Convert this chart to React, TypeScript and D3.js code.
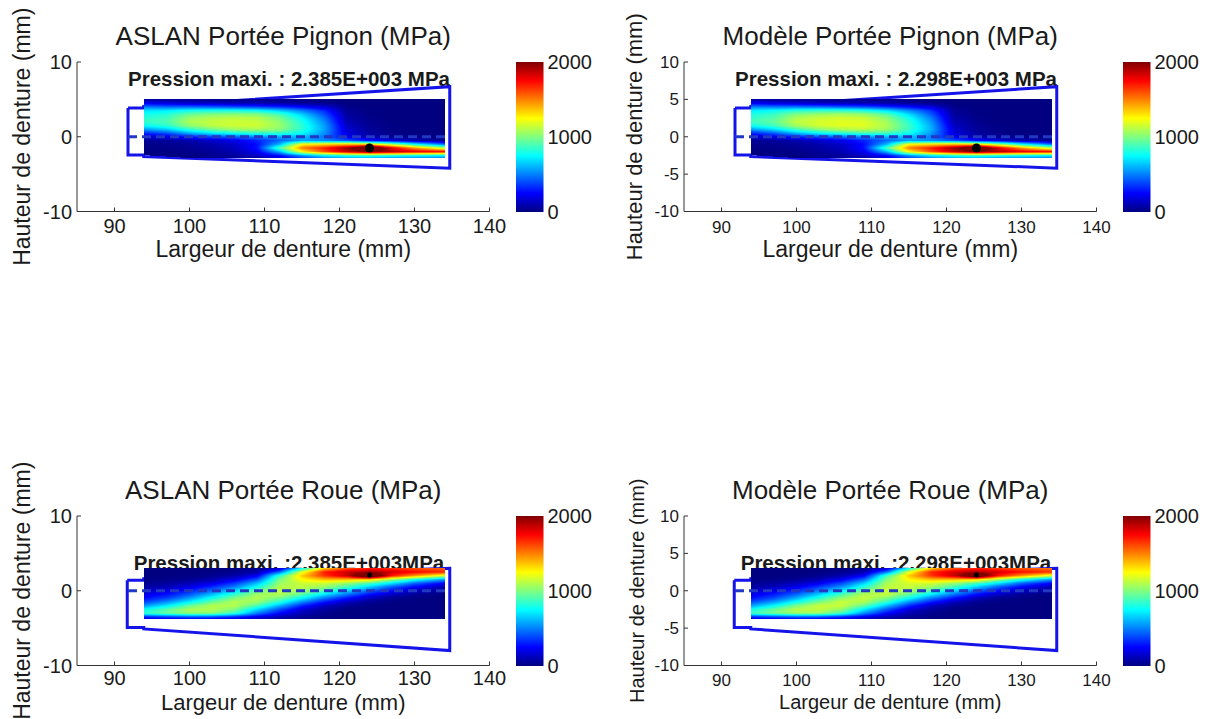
import React, { useMemo } from "react";
import * as d3 from "d3";

// ---------- data ----------
const gridX = [94, 97, 100, 103, 106, 109, 112, 115, 118, 121, 124, 127, 130, 134];
const pignonRowsY = [5, 4.5, 4, 3.5, 3, 2.5, 2, 1.5, 1, 0.5, 0, -0.5, -1, -1.5, -2, -2.5, -3];
const roueRowsY = [3, 2.5, 2, 1.5, 1, 0.5, 0, -0.5, -1, -1.5, -2, -2.5, -3, -3.5, -4];

const aslanPignon = [
  [80, 60, 50, 40, 30, 30, 20, 10, 0, 0, 0, 0, 0, 0],
  [220, 170, 140, 120, 100, 90, 70, 50, 30, 0, 0, 0, 0, 0],
  [480, 450, 450, 430, 400, 370, 320, 250, 160, 20, 0, 0, 0, 0],
  [700, 720, 780, 800, 800, 760, 650, 500, 320, 40, 10, 0, 0, 0],
  [780, 820, 950, 1000, 1020, 1000, 880, 650, 400, 60, 10, 0, 0, 0],
  [830, 880, 1050, 1100, 1120, 1100, 980, 750, 470, 80, 20, 0, 0, 0],
  [850, 900, 1080, 1130, 1150, 1140, 1030, 800, 520, 100, 30, 0, 0, 0],
  [760, 840, 1030, 1120, 1150, 1150, 1050, 830, 560, 130, 40, 10, 0, 0],
  [560, 660, 850, 980, 1060, 1080, 1020, 830, 570, 160, 50, 10, 0, 0],
  [330, 420, 600, 720, 800, 860, 860, 760, 540, 180, 60, 20, 0, 0],
  [150, 200, 310, 400, 450, 520, 590, 620, 480, 220, 90, 30, 10, 0],
  [50, 60, 100, 150, 220, 320, 450, 560, 520, 420, 280, 180, 100, 40],
  [20, 30, 50, 90, 150, 270, 600, 1250, 1300, 1350, 1300, 1050, 750, 450],
  [10, 20, 40, 70, 120, 280, 900, 1500, 1700, 1950, 2385, 1800, 1450, 1100],
  [0, 10, 20, 50, 100, 220, 600, 1250, 1600, 1850, 2000, 1900, 1800, 1750],
  [0, 0, 10, 30, 60, 130, 280, 550, 750, 850, 900, 850, 800, 750],
  [0, 0, 0, 20, 40, 80, 150, 300, 400, 450, 450, 400, 400, 400],
];

const modelePignon = [
  [80, 60, 50, 40, 30, 30, 20, 10, 0, 0, 0, 0, 0, 0],
  [230, 180, 150, 130, 110, 100, 80, 50, 30, 0, 0, 0, 0, 0],
  [500, 480, 480, 460, 430, 400, 340, 260, 170, 20, 0, 0, 0, 0],
  [720, 760, 830, 850, 850, 800, 690, 530, 340, 40, 10, 0, 0, 0],
  [800, 860, 1000, 1050, 1070, 1040, 920, 680, 420, 60, 10, 0, 0, 0],
  [850, 920, 1090, 1140, 1160, 1140, 1020, 780, 490, 80, 20, 0, 0, 0],
  [870, 940, 1120, 1170, 1190, 1180, 1070, 830, 540, 100, 30, 0, 0, 0],
  [780, 880, 1070, 1160, 1190, 1190, 1090, 860, 580, 130, 40, 10, 0, 0],
  [570, 690, 890, 1020, 1100, 1120, 1060, 860, 590, 160, 50, 10, 0, 0],
  [330, 440, 630, 760, 840, 900, 890, 780, 550, 180, 60, 20, 0, 0],
  [150, 210, 320, 420, 470, 540, 610, 640, 490, 220, 90, 30, 10, 0],
  [50, 60, 100, 150, 220, 320, 450, 560, 520, 420, 280, 180, 100, 40],
  [20, 30, 50, 90, 150, 270, 600, 1250, 1300, 1350, 1300, 1050, 750, 450],
  [10, 20, 40, 70, 120, 280, 900, 1500, 1700, 1950, 2298, 1800, 1450, 1100],
  [0, 10, 20, 50, 100, 220, 600, 1250, 1600, 1850, 2000, 1900, 1800, 1750],
  [0, 0, 10, 30, 60, 130, 280, 550, 750, 850, 900, 850, 800, 750],
  [0, 0, 0, 20, 40, 80, 150, 300, 400, 450, 450, 400, 400, 400],
];

const aslanRoue = [
  [0, 0, 0, 0, 10, 30, 150, 750, 1350, 1600, 1700, 1650, 1600, 1550],
  [0, 0, 0, 10, 30, 80, 450, 1200, 1700, 1850, 1950, 1850, 1750, 1680],
  [0, 0, 10, 30, 80, 220, 850, 1350, 1650, 1850, 2385, 1700, 1450, 1150],
  [10, 20, 40, 90, 200, 420, 980, 1250, 1380, 1380, 1330, 1050, 800, 550],
  [30, 60, 110, 200, 360, 620, 1050, 1150, 1150, 1050, 900, 700, 450, 250],
  [70, 110, 200, 330, 500, 780, 1100, 1120, 1050, 880, 650, 420, 250, 100],
  [130, 200, 310, 470, 680, 950, 1120, 1060, 900, 680, 450, 260, 130, 40],
  [200, 280, 420, 620, 850, 1060, 1100, 920, 700, 470, 270, 130, 40, 10],
  [270, 380, 560, 790, 1000, 1100, 980, 740, 480, 280, 120, 30, 10, 0],
  [380, 530, 730, 950, 1100, 1050, 820, 520, 290, 130, 40, 10, 0, 0],
  [550, 720, 950, 1100, 1100, 900, 600, 320, 130, 40, 10, 0, 0, 0],
  [760, 920, 1080, 1100, 1000, 680, 400, 170, 60, 10, 0, 0, 0, 0],
  [850, 950, 1030, 1030, 850, 500, 260, 100, 30, 0, 0, 0, 0, 0],
  [320, 370, 420, 400, 320, 210, 100, 40, 10, 0, 0, 0, 0, 0],
  [100, 100, 100, 100, 80, 50, 20, 10, 0, 0, 0, 0, 0, 0],
];

const modeleRoue = [
  [0, 0, 0, 0, 10, 30, 160, 770, 1350, 1600, 1680, 1630, 1580, 1520],
  [0, 0, 0, 10, 30, 90, 470, 1200, 1680, 1830, 1930, 1830, 1730, 1660],
  [0, 0, 10, 30, 90, 240, 870, 1350, 1650, 1850, 2298, 1700, 1450, 1150],
  [10, 20, 40, 100, 220, 450, 1000, 1260, 1380, 1380, 1330, 1050, 800, 550],
  [30, 60, 120, 220, 390, 660, 1080, 1170, 1160, 1050, 900, 700, 450, 250],
  [70, 120, 220, 360, 540, 820, 1130, 1140, 1060, 880, 650, 420, 250, 100],
  [140, 210, 330, 500, 720, 990, 1150, 1080, 910, 680, 450, 260, 130, 40],
  [210, 300, 450, 660, 890, 1100, 1130, 940, 710, 470, 270, 130, 40, 10],
  [280, 400, 600, 830, 1040, 1140, 1010, 760, 490, 280, 120, 30, 10, 0],
  [400, 560, 770, 990, 1140, 1090, 850, 540, 300, 130, 40, 10, 0, 0],
  [570, 750, 990, 1140, 1140, 940, 630, 330, 130, 40, 10, 0, 0, 0],
  [780, 950, 1110, 1130, 1040, 720, 420, 180, 60, 10, 0, 0, 0, 0],
  [870, 980, 1060, 1060, 880, 530, 270, 100, 30, 0, 0, 0, 0, 0],
  [330, 380, 430, 410, 330, 220, 100, 40, 10, 0, 0, 0, 0, 0],
  [100, 100, 100, 100, 80, 50, 20, 10, 0, 0, 0, 0, 0, 0],
];

// tooth outlines and loaded regions (mm)
const pignonOutline: [number, number][] = [
  [91.8, 3.85], [93.9, 3.85], [93.9, 4.05], [134.7, 6.7], [134.7, -4.2],
  [93.9, -2.65], [93.9, -2.45], [91.8, -2.45], [91.8, 3.85],
];
const roueOutline: [number, number][] = [
  [91.7, 1.4], [93.9, 1.4], [93.9, 1.6], [134.7, 3.0], [134.7, -8.0],
  [93.9, -5.1], [93.9, -4.9], [91.7, -4.9], [91.7, 1.4],
];
const pignonRegion: [number, number][] = [
  [93.9, 5.07], [134.1, 5.07], [134.1, -2.8], [100, -2.85], [93.9, -2.45],
];
const roueRegion: [number, number][] = [
  [93.9, 3.0], [134.1, 3.0], [134.1, -3.73], [93.9, -3.73],
];
const pignonMaxPoint: [number, number] = [124, -1.5];
const roueMaxPoint: [number, number] = [124, 2.1];
const pitchLineX = [91.8, 134.7];

const xTicks = [90, 100, 110, 120, 130, 140];
const yTicksCoarse = [-10, 0, 10];
const yTicksFine = [-10, -5, 0, 5, 10];
const colorTicks = [0, 1000, 2000];
const colorMax = 2000;

// ---------- helpers ----------
const FONT = "'Liberation Sans', Arial, Helvetica, sans-serif";
const TXT = "#1a1a1a";

function jet(v: number): [number, number, number] {
  const t = Math.max(0, Math.min(1, v / colorMax));
  const c = (u: number) => Math.max(0, Math.min(1, u));
  return [
    Math.round(c(1.5 - Math.abs(4 * t - 3)) * 255),
    Math.round(c(1.5 - Math.abs(4 * t - 2)) * 255),
    Math.round(c(1.5 - Math.abs(4 * t - 1)) * 255),
  ];
}

function interp(grid: number[][], rows: number[], x: number, y: number) {
  const n = gridX.length;
  let i = d3.bisectRight(gridX, x) - 1;
  i = Math.max(0, Math.min(n - 2, i));
  const tx = Math.max(0, Math.min(1, (x - gridX[i]) / (gridX[i + 1] - gridX[i])));
  let j = 0;
  while (j < rows.length - 2 && rows[j + 1] > y) j++;
  const ty = Math.max(0, Math.min(1, (rows[j] - y) / (rows[j] - rows[j + 1])));
  const a = grid[j][i], b = grid[j][i + 1], c = grid[j + 1][i], d = grid[j + 1][i + 1];
  return (a * (1 - tx) + b * tx) * (1 - ty) + (c * (1 - tx) + d * tx) * ty;
}

function makeHeat(grid: number[][], rows: number[], region: [number, number][], xs: any, ys: any) {
  const px0 = Math.floor(xs(d3.min(region, (d) => d[0])!));
  const px1 = Math.ceil(xs(d3.max(region, (d) => d[0])!));
  const py0 = Math.floor(ys(d3.max(region, (d) => d[1])!));
  const py1 = Math.ceil(ys(d3.min(region, (d) => d[1])!));
  const w = px1 - px0, h = py1 - py0;
  const canvas = document.createElement("canvas");
  canvas.width = w;
  canvas.height = h;
  const ctx = canvas.getContext("2d")!;
  const img = ctx.createImageData(w, h);
  for (let r = 0; r < h; r++) {
    for (let c = 0; c < w; c++) {
      const dx = xs.invert(px0 + c + 0.5);
      const dy = ys.invert(py0 + r + 0.5);
      if (!d3.polygonContains(region, [dx, dy])) continue;
      const [R, G, B] = jet(interp(grid, rows, dx, dy));
      const k = (r * w + c) * 4;
      img.data[k] = R;
      img.data[k + 1] = G;
      img.data[k + 2] = B;
      img.data[k + 3] = 255;
    }
  }
  ctx.putImageData(img, 0, 0);
  return { href: canvas.toDataURL(), x: px0, y: py0, w, h };
}

type PanelCfg = {
  id: string;
  ox: number;
  oy: number;
  title: string;
  maxText: string;
  grid: number[][];
  rows: number[];
  region: [number, number][];
  outline: [number, number][];
  maxPt: [number, number];
  dotR: number;
  yTicks: number[];
  tickFont: number;
  tickY: number;
  xLabelFont: number;
  xLabelY: number;
  yLabelFont: number;
  yLabelX: number;
  maxTextY: number;
};

const panels: PanelCfg[] = [
  {
    id: "p1", ox: 0, oy: 0, title: "ASLAN Portée Pignon (MPa)",
    maxText: "Pression maxi. : 2.385E+003 MPa", grid: aslanPignon, rows: pignonRowsY,
    region: pignonRegion, outline: pignonOutline, maxPt: pignonMaxPoint, dotR: 4.5,
    yTicks: yTicksCoarse, tickFont: 20, tickY: 233, xLabelFont: 23, xLabelY: 257, yLabelFont: 23, yLabelX: 30, maxTextY: 86,
  },
  {
    id: "p2", ox: 607, oy: 0, title: "Modèle Portée Pignon (MPa)",
    maxText: "Pression maxi. : 2.298E+003 MPa", grid: modelePignon, rows: pignonRowsY,
    region: pignonRegion, outline: pignonOutline, maxPt: pignonMaxPoint, dotR: 4.5,
    yTicks: yTicksFine, tickFont: 17, tickY: 233, xLabelFont: 23, xLabelY: 257, yLabelFont: 22, yLabelX: 35, maxTextY: 86,
  },
  {
    id: "p3", ox: 0, oy: 454, title: "ASLAN Portée Roue (MPa)",
    maxText: "Pression maxi. :2.385E+003MPa", grid: aslanRoue, rows: roueRowsY,
    region: roueRegion, outline: roueOutline, maxPt: roueMaxPoint, dotR: 2.5,
    yTicks: yTicksCoarse, tickFont: 20, tickY: 231, xLabelFont: 22, xLabelY: 256, yLabelFont: 23, yLabelX: 30, maxTextY: 116,
  },
  {
    id: "p4", ox: 607, oy: 454, title: "Modèle Portée Roue (MPa)",
    maxText: "Pression maxi. :2.298E+003MPa", grid: modeleRoue, rows: roueRowsY,
    region: roueRegion, outline: roueOutline, maxPt: roueMaxPoint, dotR: 2.5,
    yTicks: yTicksFine, tickFont: 17, tickY: 232, xLabelFont: 20, xLabelY: 255, yLabelFont: 20, yLabelX: 37, maxTextY: 116,
  },
];

const jetStops = [0, 0.125, 0.375, 0.625, 0.875, 1];

function Panel({ cfg }: { cfg: PanelCfg }) {
  const { ox, oy } = cfg;
  const xs = d3.scaleLinear().domain([85, 140]).range([ox + 77, ox + 489.5]);
  const ys = d3.scaleLinear().domain([-10, 10]).range([oy + 211.5, oy + 62]);
  const heat = useMemo(() => makeHeat(cfg.grid, cfg.rows, cfg.region, xs, ys), [cfg.id]);
  const line = d3.line<[number, number]>().x((d) => xs(d[0])).y((d) => ys(d[1]));
  const cbX0 = ox + 516, cbX1 = ox + 543.5;
  const cs = d3.scaleLinear().domain([0, colorMax]).range([oy + 212, oy + 62]);
  const axisColor = "#333";
  const xMid = (xs(85) + xs(140)) / 2;
  const yMid = (ys(-10) + ys(10)) / 2;

  return (
    <g>
      <defs>
        <linearGradient id={`cb-${cfg.id}`} x1="0" y1="1" x2="0" y2="0">
          {jetStops.map((t) => {
            const [r, g, b] = jet(t * colorMax);
            return <stop key={t} offset={t} stopColor={`rgb(${r},${g},${b})`} />;
          })}
        </linearGradient>
      </defs>

      {/* title */}
      <text x={xMid} y={oy + 45} textAnchor="middle" fontSize={26} fontFamily={FONT} fill={TXT}>
        {cfg.title}
      </text>

      {/* axes */}
      <line x1={xs(85)} x2={xs(85)} y1={ys(-10)} y2={ys(10)} stroke={axisColor} strokeWidth={1} />
      <line x1={xs(85)} x2={xs(140)} y1={ys(-10)} y2={ys(-10)} stroke={axisColor} strokeWidth={1} />
      {xTicks.map((t) => (
        <g key={`x${t}`}>
          <line x1={xs(t)} x2={xs(t)} y1={ys(-10)} y2={ys(-10) - 4} stroke={axisColor} />
          <text x={xs(t)} y={oy + cfg.tickY} textAnchor="middle" fontSize={cfg.tickFont} fontFamily={FONT} fill={TXT}>
            {t}
          </text>
        </g>
      ))}
      {cfg.yTicks.map((t) => (
        <g key={`y${t}`}>
          <line x1={xs(85)} x2={xs(85) + 4} y1={ys(t)} y2={ys(t)} stroke={axisColor} />
          <text x={xs(85) - 5} y={ys(t)} dy="0.35em" textAnchor="end" fontSize={cfg.tickFont} fontFamily={FONT} fill={TXT}>
            {t}
          </text>
        </g>
      ))}
      <text x={xMid} y={oy + cfg.xLabelY} textAnchor="middle" fontSize={cfg.xLabelFont} fontFamily={FONT} fill={TXT}>
        Largeur de denture (mm)
      </text>
      <text
        transform={`translate(${ox + cfg.yLabelX},${yMid}) rotate(-90)`}
        textAnchor="middle" fontSize={cfg.yLabelFont} fontFamily={FONT} fill={TXT}
      >
        Hauteur de denture (mm)
      </text>

      {/* max pressure annotation */}
      <text x={ox + 289} y={oy + cfg.maxTextY} textAnchor="middle" fontSize={20.5} fontWeight="bold" fontFamily={FONT} fill={TXT}>
        {cfg.maxText}
      </text>

      {/* tooth outline */}
      <path d={line(cfg.outline)!} fill="none" stroke="#1414ea" strokeWidth={3} strokeLinejoin="miter" />

      {/* pressure map */}
      <image href={heat.href} x={heat.x} y={heat.y} width={heat.w} height={heat.h} preserveAspectRatio="none" />

      {/* pitch line */}
      <line
        x1={xs(pitchLineX[0])} x2={xs(pitchLineX[1])} y1={ys(0)} y2={ys(0)}
        stroke="#2038c4" strokeWidth={3} strokeDasharray="9 5"
      />

      {/* max point */}
      <circle cx={xs(cfg.maxPt[0])} cy={ys(cfg.maxPt[1])} r={cfg.dotR} fill="#000" />

      {/* colorbar */}
      <rect x={cbX0} y={cs(colorMax)} width={cbX1 - cbX0} height={cs(0) - cs(colorMax)} fill={`url(#cb-${cfg.id})`} />
      {colorTicks.map((t) => (
        <text key={`c${t}`} x={cbX1 + 4} y={cs(t)} dy="0.35em" fontSize={20} fontFamily={FONT} fill={TXT}>
          {t}
        </text>
      ))}
    </g>
  );
}

export default function App() {
  return (
    <svg
      width={1209}
      height={719}
      style={{ position: "absolute", left: 0, top: 0, background: "#fff", display: "block" }}
    >
      <rect x={0} y={0} width={1209} height={719} fill="#fff" />
      {panels.map((p) => (
        <Panel key={p.id} cfg={p} />
      ))}
    </svg>
  );
}
